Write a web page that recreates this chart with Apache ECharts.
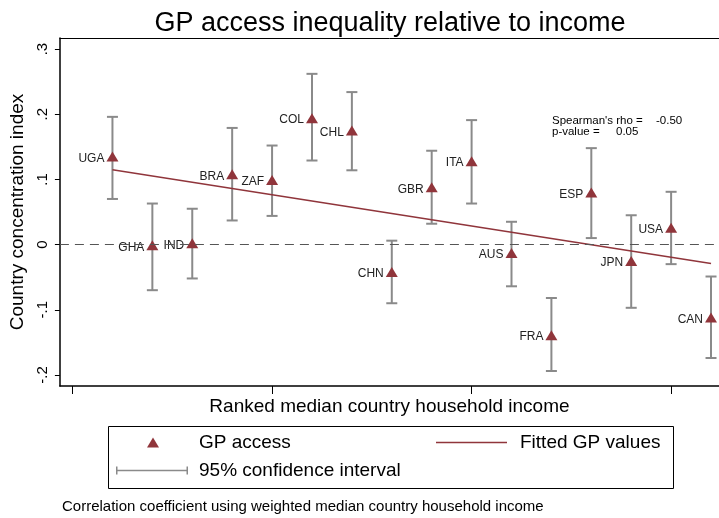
<!DOCTYPE html>
<html>
<head>
<meta charset="utf-8">
<script src="https://cdn.jsdelivr.net/npm/echarts@6/dist/echarts.min.js"></script>
<style>
  html, body { margin: 0; padding: 0; background: #fff; }
  #chart { width: 719px; height: 518px; }
</style>
</head>
<body>
<div id="chart"></div>
<script>
// Country concentration index of GP access, ordered by median household income
const countries   = ['UGA', 'GHA', 'IND', 'BRA', 'ZAF', 'COL', 'CHL', 'CHN', 'GBR', 'ITA', 'AUS', 'FRA', 'ESP', 'JPN', 'USA', 'CAN'];
const incomeRank  = [1, 2, 3, 4, 5, 6, 7, 8, 9, 10, 11, 12, 13, 14, 15, 16];
const concIndex   = [0.135, -0.001, 0.002, 0.108, 0.099, 0.194, 0.175, -0.042, 0.088, 0.128, -0.013, -0.139, 0.080, -0.025, 0.026, -0.112];
const ciLower     = [0.070, -0.070, -0.052, 0.037, 0.044, 0.129, 0.114, -0.090, 0.032, 0.063, -0.064, -0.194, 0.010, -0.097, -0.030, -0.174];
const ciUpper     = [0.196, 0.063, 0.055, 0.179, 0.152, 0.262, 0.234, 0.006, 0.144, 0.191, 0.035, -0.082, 0.148, 0.045, 0.081, -0.049];

// Fitted regression line (end points)
const fittedRank  = [1, 16];
const fittedValue = [0.115, -0.029];

// Axis ticks
const yTicks = [-0.2, -0.1, 0, 0.1, 0.2, 0.3];
const xTicks = [0, 5, 10, 15];

const FONT = 'Liberation Sans, Arial, Helvetica, sans-serif';
const RED = '#90353b';
const GREY = '#8a8a8a';

const X_MIN = -0.317, X_MAX = 16.2;

const pointData = countries.map((c, i) => ({ name: c, value: [incomeRank[i], concIndex[i]] }));
const ciData = countries.map((c, i) => [incomeRank[i], ciLower[i], ciUpper[i]]);
const fitData = fittedRank.map((r, i) => [r, fittedValue[i]]);

function fmtTick(v) {
  if (v === 0) return '0';
  return String(Math.round(v * 10) / 10).replace('0.', '.');
}

const chart = echarts.init(document.getElementById('chart'), null, { renderer: 'canvas' });

chart.setOption({
  animation: false,
  backgroundColor: '#fff',
  textStyle: { fontFamily: FONT },
  title: {
    text: 'GP access inequality relative to income',
    left: 385, top: 5, textAlign: 'center',
    textStyle: { fontFamily: FONT, fontSize: 27, fontWeight: 'normal', color: '#000' }
  },
  grid: {
    left: 59, top: 38, right: 0, bottom: 132, show: false
  },
  xAxis: [
    {
      type: 'value',
      min: X_MIN, max: X_MAX,
      name: 'Ranked median country household income',
      nameLocation: 'middle', nameGap: 11,
      nameTextStyle: { fontFamily: FONT, fontSize: 19, color: '#000' },
      axisLine: { show: true, onZero: false, lineStyle: { color: '#000', width: 1.5 } },
      axisTick: { show: true, customValues: xTicks, length: 8, lineStyle: { color: '#000', width: 1 } },
      axisLabel: { show: false },
      splitLine: { show: false }
    },
    {
      // upper border of the plot region
      type: 'value', position: 'top',
      min: X_MIN, max: X_MAX,
      axisLine: { show: true, onZero: false, lineStyle: { color: '#000', width: 1 } },
      axisTick: { show: false },
      axisLabel: { show: false },
      splitLine: { show: false }
    }
  ],
  yAxis: {
    type: 'value',
    min: -0.217, max: 0.317,
    name: 'Country concentration index',
    nameLocation: 'middle', nameGap: 32,
    nameTextStyle: { fontFamily: FONT, fontSize: 19, color: '#000' },
    axisLine: { show: true, onZero: false, lineStyle: { color: '#000', width: 1.5 } },
    axisTick: { show: true, customValues: yTicks, length: 5, lineStyle: { color: '#000', width: 1 } },
    axisLabel: {
      customValues: yTicks, rotate: 90, margin: 10,
      fontFamily: FONT, fontSize: 15, color: '#000',
      formatter: fmtTick
    },
    splitLine: { show: false }
  },
  legend: [
    {
      data: ['GP access'], left: 147, top: 433, padding: 0,
      itemWidth: 12, itemHeight: 10, selectedMode: false,
      textStyle: { fontFamily: FONT, fontSize: 19, color: '#000', padding: [0, 0, 0, 35] }
    },
    {
      data: [{ name: 'Fitted GP values', icon: 'path://M0,0H71V1.5H0Z' }],
      left: 436, top: 433, padding: 0,
      itemWidth: 71, itemHeight: 1.5, selectedMode: false,
      textStyle: { fontFamily: FONT, fontSize: 19, color: '#000', padding: [0, 0, 0, 8] }
    },
    {
      data: [{ name: '95% confidence interval', icon: 'path://M0,0H1.5V8H0Z M0,3.25H72V4.75H0Z M70.5,0H72V8H70.5Z' }],
      left: 116, top: 461, padding: 0,
      itemWidth: 72, itemHeight: 8, selectedMode: false,
      textStyle: { fontFamily: FONT, fontSize: 19, color: '#000', padding: [0, 0, 0, 6] }
    }
  ],
  graphic: [
    {
      type: 'rect', shape: { x: 108.5, y: 426.5, width: 565, height: 62 },
      style: { fill: 'none', stroke: '#000', lineWidth: 1 }, silent: true
    },
    {
      type: 'text', left: 62, top: 499,
      style: { text: 'Correlation coefficient using weighted median country household income', font: '15px ' + FONT, fill: '#000' }
    },
    {
      type: 'text', x: 552, y: 115,
      style: { text: "Spearman's rho =", font: '11.5px ' + FONT, fill: '#000' }
    },
    {
      type: 'text', x: 656, y: 115,
      style: { text: '-0.50', font: '11.5px ' + FONT, fill: '#000' }
    },
    {
      type: 'text', x: 552, y: 126,
      style: { text: 'p-value =', font: '11.5px ' + FONT, fill: '#000' }
    },
    {
      type: 'text', x: 616, y: 126,
      style: { text: '0.05', font: '11.5px ' + FONT, fill: '#000' }
    }
  ],
  series: [
    {
      name: '95% confidence interval',
      type: 'custom',
      data: ciData,
      itemStyle: { color: GREY },
      z: 2,
      renderItem: function (params, api) {
        const x = api.value(0);
        const top = api.coord([x, api.value(2)]);
        const bot = api.coord([x, api.value(1)]);
        const w = 5.5;
        const style = { stroke: GREY, lineWidth: 2 };
        return {
          type: 'group',
          children: [
            { type: 'line', shape: { x1: top[0], y1: top[1], x2: bot[0], y2: bot[1] }, style: style },
            { type: 'line', shape: { x1: top[0] - w, y1: top[1], x2: top[0] + w, y2: top[1] }, style: style },
            { type: 'line', shape: { x1: bot[0] - w, y1: bot[1], x2: bot[0] + w, y2: bot[1] }, style: style }
          ]
        };
      }
    },
    {
      name: 'Fitted GP values',
      type: 'line',
      data: fitData,
      symbol: 'none',
      lineStyle: { color: RED, width: 1.5 },
      itemStyle: { color: RED },
      z: 3,
      markLine: {
        silent: true,
        symbol: 'none',
        label: { show: false },
        lineStyle: { color: '#555', width: 1, type: [9, 6] },
        data: [{ yAxis: 0 }]
      }
    },
    {
      name: 'GP access',
      type: 'scatter',
      data: pointData,
      symbol: 'triangle',
      symbolSize: [12, 10],
      itemStyle: { color: RED, opacity: 1 },
      z: 4,
      label: {
        show: true,
        position: 'left',
        distance: 2,
        offset: [0, 2],
        formatter: p => p.name,
        fontFamily: FONT, fontSize: 12, color: '#222'
      }
    }
  ]
});
</script>
</body>
</html>
